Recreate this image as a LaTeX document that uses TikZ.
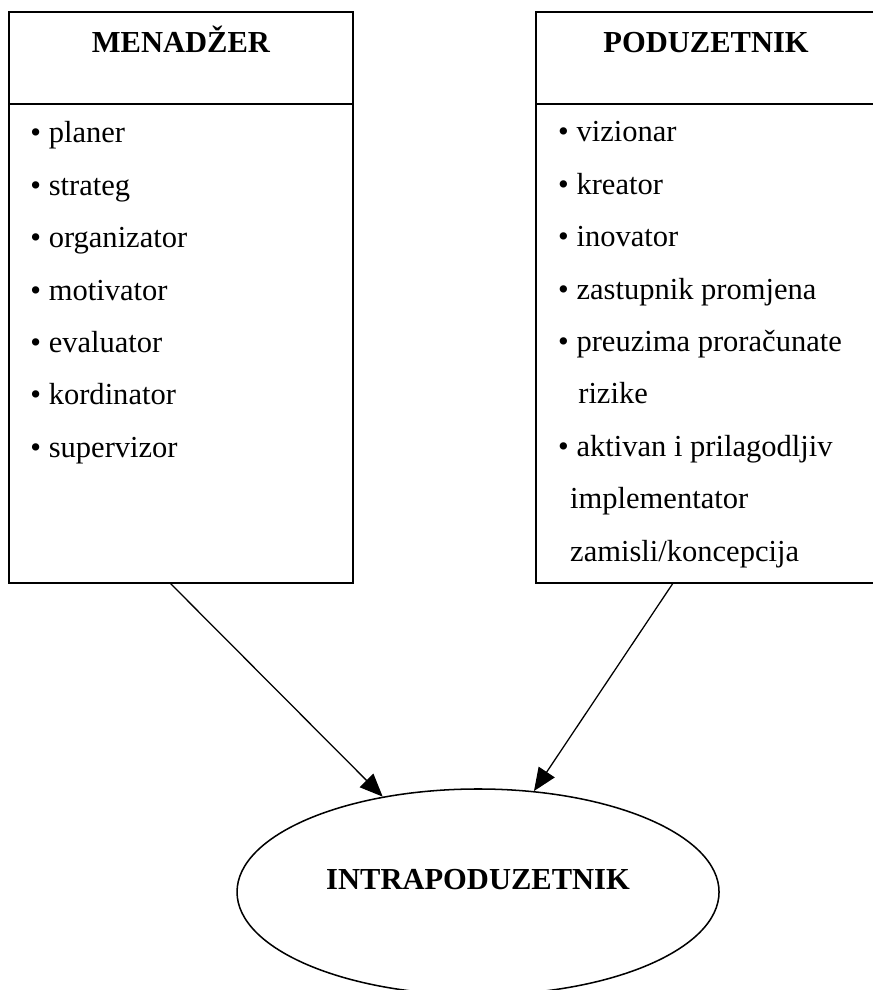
\documentclass[tikz,border=0pt]{standalone}
\usepackage{fontspec}
\setmainfont{Liberation Serif}
\usetikzlibrary{shapes, arrows.meta, positioning}

\begin{document}
\begin{tikzpicture}[
  headbox/.style={draw, line width=0.8pt, outer sep=0pt, inner sep=0pt, minimum width=#1, font=\fontsize{12}{14}\selectfont\bfseries, text height=0.553cm, text depth=0.718cm},
  listbox/.style={draw, line width=0.8pt, outer sep=0pt, inner sep=0pt, minimum width=#1, minimum height=6.617cm},
  items/.style={inner sep=0pt, align=left, font=\fontsize{12}{20.6}\selectfont},
  link/.style={line width=0.5pt, -{Triangle[length=9pt, width=7.5pt]}}
]
  \useasboundingbox (0,0) rectangle (12.047,-13.677);

  \node[headbox=4.752cm, anchor=north west] (mgrhead) at (0.124,-0.166) {MENADŽER};
  \node[listbox=4.752cm, below=0pt of mgrhead] (mgrlist) {};
  \node[items, below right=0.237cm and 0.29cm of mgrlist.north west] (mgritems) {
    \textbullet{} planer\\
    \textbullet{} strateg\\
    \textbullet{} organizator\\
    \textbullet{} motivator\\
    \textbullet{} evaluator\\
    \textbullet{} kordinator\\
    \textbullet{} supervizor
  };

  \node[headbox=4.7cm, anchor=north west] (enthead) at (7.405,-0.166) {PODUZETNIK};
  \node[listbox=4.7cm, below=0pt of enthead] (entlist) {};
  \node[items, below right=0.237cm and 0.3cm of entlist.north west] (entitems) {
    \textbullet{} vizionar\\
    \textbullet{} kreator\\
    \textbullet{} inovator\\
    \textbullet{} zastupnik promjena\\
    \textbullet{} preuzima proračunate\\
    \hspace*{7.9pt}rizike\\
    \textbullet{} aktivan i prilagodljiv\\
    \hspace*{4.7pt}implementator\\
    \hspace*{4.7pt}zamisli/koncepcija
  };

  \node[ellipse, draw, line width=0.6pt, inner sep=0pt, minimum width=6.659cm, minimum height=2.846cm, font=\fontsize{12}{14}\selectfont\bfseries, text height=8pt, text depth=9.6pt] (intra) at (6.604,-12.323) {INTRAPODUZETNIK};

  \draw[link] ([xshift=-0.152cm]mgrlist.south) -- (intra.135);
  \draw[link] ([xshift=-0.456cm]entlist.south) -- (intra.61);
\end{tikzpicture}
\end{document}
